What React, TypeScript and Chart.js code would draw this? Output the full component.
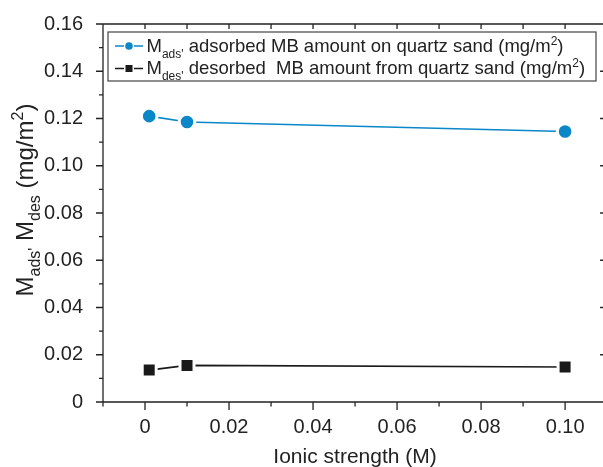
import React, { useEffect, useRef } from 'react';
import { Chart, registerables } from 'chart.js';

Chart.register(...registerables);

const ionicStrength = [0.001, 0.01, 0.1];
const adsorbed = [0.121, 0.1185, 0.1145];
const desorbed = [0.0135, 0.0155, 0.0148];

const xTickValues = [0, 0.02, 0.04, 0.06, 0.08, 0.1];
const xTickLabels = ['0', '0.02', '0.04', '0.06', '0.08', '0.10'];
const xMinorValues = [-0.01, 0.01, 0.03, 0.05, 0.07, 0.09, 0.11];
const yTickValues = [0, 0.02, 0.04, 0.06, 0.08, 0.1, 0.12, 0.14, 0.16];
const yTickLabels = ['0', '0.02', '0.04', '0.06', '0.08', '0.10', '0.12', '0.14', '0.16'];
const yMinorValues = [0.01, 0.03, 0.05, 0.07, 0.09, 0.11, 0.13, 0.15];

const BLUE = '#0a87c9';
const BLACK = '#1a1a1a';
const AXIS = '#222222';
const FONT = '"Liberation Sans", Arial, Helvetica, sans-serif';

type Piece = { t: string; k: 'n' | 'sub' | 'sup' };

const legendLine1: Piece[] = [
  { t: 'M', k: 'n' },
  { t: "ads'", k: 'sub' },
  { t: ' adsorbed MB amount on quartz sand (mg/m', k: 'n' },
  { t: '2', k: 'sup' },
  { t: ')', k: 'n' },
];
const legendLine2: Piece[] = [
  { t: 'M', k: 'n' },
  { t: "des'", k: 'sub' },
  { t: ' desorbed  MB amount from quartz sand (mg/m', k: 'n' },
  { t: '2', k: 'sup' },
  { t: ')', k: 'n' },
];
const yTitle: Piece[] = [
  { t: 'M', k: 'n' },
  { t: "ads'", k: 'sub' },
  { t: ' M', k: 'n' },
  { t: 'des', k: 'sub' },
  { t: ' (mg/m', k: 'n' },
  { t: '2', k: 'sup' },
  { t: ')', k: 'n' },
];
const xTitle = 'Ionic strength (M)';

function piecesWidth(ctx: CanvasRenderingContext2D, pieces: Piece[], size: number) {
  let w = 0;
  for (const p of pieces) {
    const s = p.k === 'n' ? size : Math.round(size * 0.66);
    ctx.font = `${s}px ${FONT}`;
    w += ctx.measureText(p.t).width;
  }
  return w;
}

function drawPieces(ctx: CanvasRenderingContext2D, pieces: Piece[], x: number, y: number, size: number) {
  let cx = x;
  ctx.textBaseline = 'alphabetic';
  ctx.textAlign = 'left';
  for (const p of pieces) {
    const s = p.k === 'n' ? size : Math.round(size * 0.66);
    ctx.font = `${s}px ${FONT}`;
    const dy = p.k === 'sub' ? size * 0.3 : p.k === 'sup' ? -size * 0.4 : 0;
    ctx.fillText(p.t, cx, y + dy);
    cx += ctx.measureText(p.t).width;
  }
}

const framePlugin = {
  id: 'framePlugin',
  afterDraw(chart: any) {
    const ctx: CanvasRenderingContext2D = chart.ctx;
    const { left, right, top, bottom } = chart.chartArea;
    const xs = chart.scales.x;
    const ys = chart.scales.y;
    ctx.save();
    ctx.strokeStyle = AXIS;
    ctx.lineWidth = 1.3;
    ctx.beginPath();
    ctx.moveTo(left, top);
    ctx.lineTo(left, bottom);
    ctx.lineTo(right, bottom);
    ctx.moveTo(left, top);
    ctx.lineTo(right, top);
    ctx.lineTo(right, bottom);
    for (const v of xTickValues) {
      const px = xs.getPixelForValue(v);
      ctx.moveTo(px, bottom);
      ctx.lineTo(px, bottom + 8);
    }
    for (const v of xMinorValues) {
      const px = xs.getPixelForValue(v);
      ctx.moveTo(px, bottom);
      ctx.lineTo(px, bottom + 4.5);
    }
    for (const v of [...xTickValues, ...xMinorValues]) {
      const px = xs.getPixelForValue(v);
      ctx.moveTo(px, top);
      ctx.lineTo(px, top + 5);
    }
    for (const v of yTickValues) {
      const py = ys.getPixelForValue(v);
      ctx.moveTo(left, py);
      ctx.lineTo(left - 7, py);
    }
    for (const v of yMinorValues) {
      const py = ys.getPixelForValue(v);
      ctx.moveTo(left, py);
      ctx.lineTo(left - 4, py);
    }
    for (const v of yTickValues) {
      const py = ys.getPixelForValue(v);
      ctx.moveTo(right, py);
      ctx.lineTo(right - 7, py);
    }
    ctx.stroke();

    // x title
    ctx.fillStyle = AXIS;
    ctx.font = `21px ${FONT}`;
    ctx.textAlign = 'center';
    ctx.textBaseline = 'alphabetic';
    ctx.fillText(xTitle, (xs.getPixelForValue(0) + xs.getPixelForValue(0.1)) / 2, 463);

    // y title
    const ySize = 24;
    const tw = piecesWidth(ctx, yTitle, ySize);
    ctx.save();
    ctx.translate(33, (top + bottom) / 2 - 13);
    ctx.rotate(-Math.PI / 2);
    drawPieces(ctx, yTitle, -tw / 2, 0, ySize);
    ctx.restore();

    // legend
    const lx = 108, ly = 32, lw = 488, lh = 49;
    ctx.fillStyle = '#ffffff';
    ctx.fillRect(lx, ly, lw, lh);
    ctx.strokeStyle = '#444444';
    ctx.lineWidth = 1.2;
    ctx.strokeRect(lx, ly, lw, lh);

    const rows = [
      { y: 46, color: BLUE, style: 'circle', pieces: legendLine1, base: 52 },
      { y: 68.5, color: BLACK, style: 'rect', pieces: legendLine2, base: 74 },
    ];
    for (const r of rows) {
      ctx.strokeStyle = r.color;
      ctx.lineWidth = 1.6;
      ctx.beginPath();
      ctx.moveTo(115, r.y);
      ctx.lineTo(124, r.y);
      ctx.moveTo(134, r.y);
      ctx.lineTo(143, r.y);
      ctx.stroke();
      ctx.fillStyle = r.color;
      if (r.style === 'circle') {
        ctx.beginPath();
        ctx.arc(129, r.y, 3.8, 0, Math.PI * 2);
        ctx.fill();
      } else {
        ctx.fillRect(125.5, r.y - 3.5, 7, 7);
      }
      ctx.fillStyle = AXIS;
      drawPieces(ctx, r.pieces, 146.5, r.base, 18.5);
    }
    ctx.restore();
  },
};

export default function App() {
  const ref = useRef<HTMLCanvasElement | null>(null);
  useEffect(() => {
    if (!ref.current) return;
    const chart = new Chart(ref.current, {
      type: 'line',
      data: {
        datasets: [
          {
            label: 'adsorbed',
            data: ionicStrength.map((x, i) => ({ x, y: adsorbed[i] })),
            borderColor: BLUE,
            backgroundColor: BLUE,
            borderWidth: 1.6,
            pointStyle: 'circle',
            pointRadius: 7.8,
            pointBackgroundColor: BLUE,
            pointBorderColor: '#ffffff',
            pointBorderWidth: 3,
            tension: 0,
          },
          {
            label: 'desorbed',
            data: ionicStrength.map((x, i) => ({ x, y: desorbed[i] })),
            borderColor: BLACK,
            backgroundColor: BLACK,
            borderWidth: 1.6,
            pointStyle: 'rect',
            pointRadius: 9.9,
            pointBackgroundColor: BLACK,
            pointBorderColor: '#ffffff',
            pointBorderWidth: 3,
            tension: 0,
          },
        ],
      },
      options: {
        responsive: false,
        animation: false,
        events: [],
        layout: { padding: { left: 0, right: 12, top: 23, bottom: 0 } },
        plugins: { legend: { display: false }, tooltip: { enabled: false } },
        scales: {
          x: {
            type: 'linear',
            min: -0.01,
            max: 0.11,
            afterBuildTicks: (s: any) => {
              s.ticks = xTickValues.map((v) => ({ value: v }));
            },
            afterFit: (s: any) => {
              s.height = 65;
            },
            ticks: {
              callback: (_v: any, i: number) => xTickLabels[i],
              font: { family: FONT, size: 20 },
              color: AXIS,
              padding: 5,
              maxRotation: 0,
              autoSkip: false,
            },
            grid: { display: false },
            border: { display: false },
          },
          y: {
            type: 'linear',
            min: 0,
            max: 0.16,
            afterBuildTicks: (s: any) => {
              s.ticks = yTickValues.map((v) => ({ value: v }));
            },
            afterFit: (s: any) => {
              s.width = 103;
            },
            ticks: {
              callback: (_v: any, i: number) => yTickLabels[i],
              font: { family: FONT, size: 20 },
              color: AXIS,
              padding: 12,
              autoSkip: false,
            },
            grid: { display: false },
            border: { display: false },
          },
        },
      },
      plugins: [framePlugin],
    });
    return () => chart.destroy();
  }, []);

  return (
    <div style={{ position: 'fixed', left: 0, top: 0, width: 603, height: 467, overflow: 'hidden', background: '#fff' }}>
      <canvas ref={ref} width={620} height={467} style={{ width: 620, height: 467, display: 'block' }} />
    </div>
  );
}
